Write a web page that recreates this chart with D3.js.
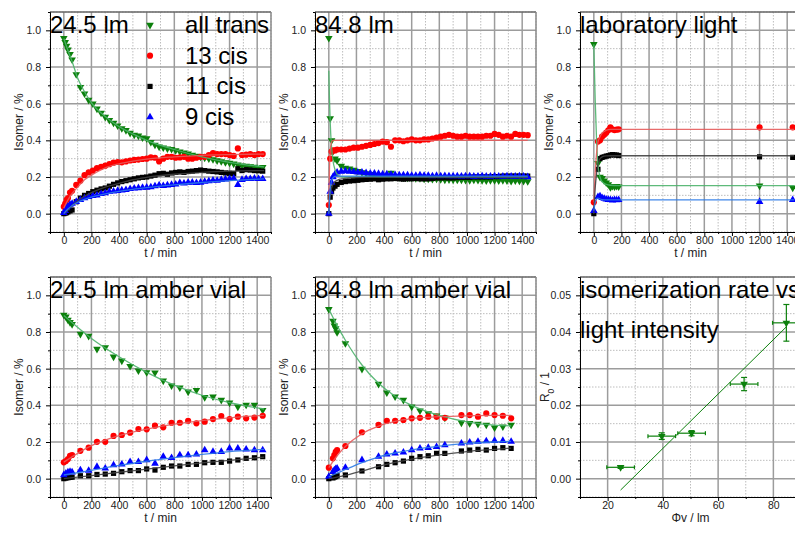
<!DOCTYPE html>
<html>
<head>
<meta charset="utf-8">
<script src="https://cdn.jsdelivr.net/npm/d3@7"></script>
<style>
  body { margin: 0; background: #fff; }
  svg { display: block; font-family: "Liberation Sans", Arial, Helvetica, sans-serif; }
</style>
</head>
<body>
<svg id="chart" width="795" height="536"></svg>
<script>
// ---- data (isomer fraction vs time, min) ----

// dense runs, 24.5 lm and 84.8 lm
const tDense = [0,10,20,30,45,60,90,120,150,180,210,240,270,300,330,360,390,420,450,480,510,540,570,600,630,660,690,720,750,780,810,840,870,900,930,960,990,1020,1050,1080,1110,1140,1170,1200,1230,1260,1290,1320,1350,1380,1410,1440];

const p1Trans = [.957,.935,.915,.895,.87,.84,.76,.69,.655,.62,.60,.572,.55,.527,.51,.495,.48,.465,.455,.44,.43,.425,.415,.41,.39,.375,.365,.36,.355,.352,.345,.338,.332,.327,.32,.315,.31,.305,.30,.296,.29,.285,.28,.277,.272,.267,.262,.26,.257,.255,.25,.253];
const p1Cis13 = [.038,.055,.075,.085,.115,.125,.157,.18,.21,.225,.235,.248,.256,.262,.27,.278,.282,.28,.285,.29,.293,.295,.298,.30,.307,.305,.285,.30,.31,.31,.305,.307,.31,.30,.30,.305,.31,.31,.32,.33,.325,.325,.325,.32,.315,.356,.32,.322,.325,.32,.325,.325];
const p1Cis11 = [0,.003,.005,.01,.015,.02,.065,.085,.10,.11,.12,.128,.135,.14,.15,.16,.168,.175,.18,.185,.19,.195,.198,.20,.205,.21,.218,.22,.215,.222,.225,.228,.225,.23,.232,.235,.238,.235,.232,.23,.228,.225,.222,.22,.218,.245,.235,.24,.238,.235,.234,.232];
const p1Cis9 = [.005,.015,.03,.04,.05,.055,.065,.075,.085,.092,.098,.10,.108,.112,.12,.122,.125,.128,.13,.135,.138,.14,.142,.143,.145,.15,.155,.152,.155,.158,.16,.168,.165,.17,.17,.168,.17,.175,.178,.182,.18,.185,.188,.19,.193,.158,.185,.19,.19,.192,.19,.19];
const p1FitT = [0,30,60,100,150,200,300,400,500,600,800,1000,1200,1450];
const p1FitTrans = [.955,.89,.83,.74,.665,.605,.53,.475,.435,.40,.35,.31,.28,.255];
const p1FitCis13 = [.03,.075,.11,.145,.185,.21,.25,.272,.287,.298,.31,.318,.322,.325];
const p1FitCis11 = [0,.02,.045,.07,.095,.115,.145,.165,.185,.198,.215,.225,.232,.235];
const p1FitCis9 = [0,.025,.045,.062,.078,.09,.108,.122,.133,.142,.157,.17,.18,.19];

const p2Trans = [.957,.52,.40,.34,.30,.29,.26,.25,.245,.238,.232,.225,.22,.215,.21,.208,.205,.203,.222,.20,.198,.196,.195,.195,.193,.192,.19,.19,.188,.19,.187,.185,.186,.185,.184,.185,.183,.182,.184,.183,.182,.18,.182,.181,.18,.182,.18,.178,.18,.179,.178,.176];
const p2Cis13 = [.047,.30,.338,.345,.345,.35,.35,.35,.355,.36,.36,.365,.37,.375,.38,.385,.393,.39,.365,.40,.40,.395,.40,.405,.40,.40,.405,.405,.41,.415,.42,.425,.43,.425,.42,.42,.425,.42,.42,.42,.42,.425,.425,.435,.43,.42,.425,.42,.435,.43,.43,.428];
const p2Cis11 = [0,.09,.12,.14,.15,.16,.17,.175,.178,.18,.182,.185,.187,.188,.19,.185,.188,.19,.19,.192,.19,.188,.19,.19,.192,.19,.19,.19,.192,.195,.195,.196,.195,.195,.197,.198,.198,.198,.20,.20,.20,.20,.20,.202,.202,.205,.205,.205,.205,.205,.205,.205];
const p2Cis9 = [0,.12,.17,.20,.215,.225,.23,.232,.23,.228,.225,.225,.222,.22,.22,.218,.215,.215,.213,.212,.21,.21,.21,.208,.208,.21,.208,.208,.205,.207,.205,.206,.205,.205,.205,.204,.205,.205,.203,.204,.205,.203,.203,.205,.204,.203,.205,.204,.203,.205,.204,.20];
const p2FitT = [0,5,10,20,30,45,60,80,100,150,200,300,500,800,1100,1440];
const p2FitTrans = [.78,.62,.50,.36,.29,.24,.215,.205,.20,.20,.20,.20,.20,.20,.20,.20];
const p2FitCis13 = [.05,.25,.34,.39,.40,.40,.40,.40,.40,.40,.40,.40,.40,.40,.40,.40];
const p2FitCis11 = [0,.06,.10,.14,.16,.175,.182,.188,.19,.195,.197,.198,.20,.20,.20,.20];
const p2FitCis9 = [0,.08,.13,.18,.195,.203,.205,.205,.205,.205,.205,.205,.205,.205,.205,.205];

// laboratory light
const t3 = [0,30,45,60,75,90,105,120,135,150,165,180,1200,1440];
const p3Trans = [.924,.275,.20,.193,.18,.169,.16,.143,.15,.147,.15,.147,.152,.141];
const p3Cis13 = [.062,.393,.40,.42,.43,.442,.455,.471,.46,.456,.458,.46,.471,.471];
const p3Cis11 = [0,.242,.30,.307,.31,.314,.316,.32,.322,.32,.32,.317,.31,.307];
const p3Cis9 = [.016,.092,.095,.086,.082,.078,.076,.075,.073,.075,.074,.075,.065,.075];
const p3FitT = [0,10,20,30,45,60,90,120,180,1450];
const p3FitTrans = [.924,.62,.40,.27,.20,.175,.16,.155,.153,.153];
const p3FitCis13 = [.062,.22,.33,.39,.42,.44,.455,.46,.46,.46];
const p3FitCis11 = [0,.14,.22,.27,.30,.31,.315,.316,.316,.316];
const p3FitCis9 = [.016,.06,.08,.085,.08,.077,.075,.075,.075,.075];

// 24.5 lm amber vial
const t4 = [0,15,30,45,60,120,180,240,300,360,420,480,540,600,660,720,780,840,900,960,1020,1080,1140,1200,1260,1320,1380,1440];
const p4Trans = [.893,.884,.866,.853,.842,.789,.778,.707,.716,.665,.643,.614,.589,.58,.578,.534,.507,.496,.474,.483,.444,.447,.429,.414,.392,.402,.402,.374];
const p4Cis13 = [.089,.096,.107,.125,.129,.152,.169,.201,.201,.233,.238,.251,.271,.269,.289,.28,.305,.305,.316,.302,.311,.325,.342,.325,.338,.329,.333,.343];
const p4Cis11 = [0,.003,.005,.007,.008,.016,.016,.023,.025,.029,.038,.044,.044,.053,.047,.062,.069,.069,.078,.078,.087,.089,.089,.096,.102,.111,.114,.12];
const p4Cis9 = [.02,.029,.035,.038,.035,.047,.044,.065,.056,.074,.078,.092,.092,.102,.083,.12,.114,.129,.129,.133,.156,.147,.147,.165,.165,.16,.156,.156];
const p4FitT = [0,200,400,600,800,1000,1200,1450];
const p4FitTrans = [.89,.765,.665,.58,.51,.455,.415,.38];
const p4FitCis13 = [.09,.18,.235,.27,.297,.317,.332,.345];
const p4FitCis11 = [0,.017,.035,.052,.07,.086,.1,.118];
const p4FitCis9 = [.02,.045,.072,.095,.115,.133,.148,.16];

// 84.8 lm amber vial
const t5 = [0,30,40,50,60,120,240,360,420,480,540,600,660,720,780,840,960,1020,1080,1140,1200,1260,1320];
const p5Trans = [.924,.86,.834,.82,.798,.738,.598,.516,.469,.447,.429,.392,.371,.356,.343,.332,.305,.302,.298,.293,.278,.284,.293];
const p5Cis13 = [.06,.111,.129,.147,.156,.178,.253,.293,.316,.316,.32,.329,.332,.338,.338,.332,.347,.347,.338,.356,.347,.343,.329];
const p5Cis11 = [0,.004,.009,.011,.016,.02,.042,.065,.078,.087,.096,.111,.12,.125,.138,.138,.151,.156,.16,.156,.165,.169,.165];
const p5Cis9 = [.011,.038,.047,.053,.056,.06,.102,.12,.133,.138,.144,.156,.165,.169,.174,.183,.193,.198,.202,.205,.207,.207,.202];
const p5FitT = [0,60,120,240,360,480,600,800,1000,1200,1320];
const p5FitTrans = [.925,.835,.755,.62,.52,.45,.40,.345,.31,.292,.288];
const p5FitCis13 = [.06,.125,.175,.245,.287,.312,.327,.338,.343,.345,.345];
const p5FitCis11 = [0,.008,.018,.042,.067,.089,.107,.13,.148,.16,.167];
const p5FitCis9 = [.01,.03,.05,.088,.118,.14,.157,.178,.192,.2,.203];

// isomerization rate vs light intensity
const phiV = [24.7, 39.6, 50.4, 69.4, 84.7];
const phiErr = [5, 5, 5, 5, 5];
const rate0 = [0.0031, 0.0116, 0.0124, 0.0258, 0.0425];
const rateErr = [0.0003, 0.0009, 0.0007, 0.0018, 0.005];
const rateFitX = [24.7, 84.7];
const rateFitY = [-0.0031, 0.0414];

// ---- drawing ----
const svg = d3.select("#chart");
const PW = 221, PH = 220;

const series = [
  { label: "all trans", color: "#0c800c", fit: "#4cb36c", shape: "down" },
  { label: "13 cis", color: "#ff0000", fit: "#e65c5c", shape: "circle" },
  { label: "11 cis", color: "#000000", fit: "#404040", shape: "square" },
  { label: "9 cis", color: "#0000ff", fit: "#2d7be6", shape: "up" }
];

function symbolPath(shape) {
  if (shape === "circle") return d3.symbol(d3.symbolCircle, 30)();
  if (shape === "square") return d3.symbol(d3.symbolSquare, 27)();
  return d3.symbol(d3.symbolTriangle, 25)();
}

function drawMarkers(g, pts, s) {
  g.append("g").selectAll("path").data(pts).join("path")
    .attr("d", symbolPath(s.shape))
    .attr("transform", d => `translate(${d[0]},${d[1]})` + (s.shape === "down" ? " rotate(180)" : ""))
    .attr("fill", s.color);
}

function makePanel(p) {
  const g = svg.append("g").attr("transform", `translate(${p.left},${p.top})`);
  const x = d3.scaleLinear().domain(p.xDomain).range([0, PW]);
  const y = d3.scaleLinear().domain(p.yDomain).range([PH, 0]);

  // grid
  const grid = g.append("g");
  grid.selectAll(".mx").data(p.xMinor).join("line")
    .attr("x1", d => x(d)).attr("x2", d => x(d)).attr("y1", 0).attr("y2", PH)
    .attr("stroke", "#bdbdbd").attr("stroke-dasharray", "1.5,1.5");
  grid.selectAll(".my").data(p.yMinor).join("line")
    .attr("y1", d => y(d)).attr("y2", d => y(d)).attr("x1", 0).attr("x2", PW)
    .attr("stroke", "#bdbdbd").attr("stroke-dasharray", "1.5,1.5");
  grid.selectAll(".gx").data(p.xMajor).join("line")
    .attr("x1", d => x(d)).attr("x2", d => x(d)).attr("y1", 0).attr("y2", PH)
    .attr("stroke", "#9c9c9c").attr("stroke-width", 1.5);
  grid.selectAll(".gy").data(p.yMajor).join("line")
    .attr("y1", d => y(d)).attr("y2", d => y(d)).attr("x1", 0).attr("x2", PW)
    .attr("stroke", "#9c9c9c").attr("stroke-width", 1.5);

  // frame top / right
  g.append("line").attr("x1", 0).attr("x2", PW).attr("y1", 0).attr("y2", 0)
    .attr("stroke", "#666").attr("stroke-width", 1.3);
  g.append("line").attr("x1", PW).attr("x2", PW).attr("y1", 0).attr("y2", PH)
    .attr("stroke", "#888").attr("stroke-width", 1.5);

  // axes
  const ax = (axis, transform) => {
    const a = g.append("g").attr("transform", transform || null).call(axis);
    a.select(".domain").attr("stroke", "#000");
    a.selectAll(".tick line").attr("stroke", "#000");
    a.selectAll("text").attr("font-size", 10.5).attr("fill", "#222")
      .style("font-family", '"Liberation Sans", Arial, sans-serif');
    return a;
  };
  ax(d3.axisLeft(y).tickValues(p.yMinor).tickSize(2).tickSizeOuter(0).tickFormat(""));
  ax(d3.axisLeft(y).tickValues(p.yMajor).tickSize(4).tickSizeOuter(0).tickPadding(5)
    .tickFormat(d3.format(p.yFmt)));
  ax(d3.axisBottom(x).tickValues(p.xMinor).tickSize(2).tickSizeOuter(0).tickFormat(""), `translate(0,${PH})`);
  ax(d3.axisBottom(x).tickValues(p.xMajor).tickSize(4).tickSizeOuter(0).tickPadding(1)
    .tickFormat(d3.format(p.xFmt)), `translate(0,${PH})`);

  // axis titles
  g.append("text").attr("x", PW / 2).attr("y", PH + 25).attr("text-anchor", "middle")
    .attr("font-size", 12).attr("fill", "#222").text(p.xTitle);
  const yt = g.append("text")
    .attr("transform", `translate(${p.yTitleX},${PH / 2}) rotate(-90)`)
    .attr("text-anchor", "middle").attr("font-size", 12).attr("fill", "#222");
  if (p.yTitleSub) {
    yt.append("tspan").text("R");
    yt.append("tspan").attr("baseline-shift", "sub").attr("font-size", 8.5).text("0");
    yt.append("tspan").text(" / 1");
  } else {
    yt.text(p.yTitle);
  }
  return { g, x, y };
}

function timePanel(p) {
  const { g, x, y } = makePanel(Object.assign({
    xDomain: [-100, 1500], yDomain: [-0.1, 1.1],
    xMajor: [0, 200, 400, 600, 800, 1000, 1200, 1400],
    xMinor: [-100, 100, 300, 500, 700, 900, 1100, 1300, 1500],
    yMajor: [0, 0.2, 0.4, 0.6, 0.8, 1.0],
    yMinor: [-0.1, 0.1, 0.3, 0.5, 0.7, 0.9, 1.1],
    xFmt: "d", yFmt: ".1f", xTitle: "t / min", yTitle: "Isomer / %", yTitleX: -27
  }, p));

  const line = d3.line().curve(d3.curveMonotoneX).x(d => x(d[0])).y(d => y(d[1]));
  series.forEach((s, i) => {
    drawMarkers(g, p.t.map((t, k) => [x(t), y(p.vals[i][k])]), s);
  });
  series.forEach((s, i) => {
    g.append("path").datum(p.fitT.map((t, k) => [t, p.fits[i][k]]))
      .attr("d", line).attr("fill", "none")
      .attr("stroke", s.fit).attr("stroke-width", 1.3).attr("stroke-opacity", 0.9);
  });

  g.append("text").attr("x", 0).attr("y", 21).attr("font-size", 24).attr("fill", "#000").text(p.title);
  return g;
}

const g1 = timePanel({ left: 50, top: 12, title: "24.5 lm", t: tDense,
  vals: [p1Trans, p1Cis13, p1Cis11, p1Cis9], fitT: p1FitT,
  fits: [p1FitTrans, p1FitCis13, p1FitCis11, p1FitCis9] });

timePanel({ left: 315, top: 12, title: "84.8 lm", t: tDense,
  vals: [p2Trans, p2Cis13, p2Cis11, p2Cis9], fitT: p2FitT,
  fits: [p2FitTrans, p2FitCis13, p2FitCis11, p2FitCis9] });

timePanel({ left: 580, top: 12, title: "laboratory light", t: t3,
  vals: [p3Trans, p3Cis13, p3Cis11, p3Cis9], fitT: p3FitT,
  fits: [p3FitTrans, p3FitCis13, p3FitCis11, p3FitCis9] });

timePanel({ left: 50, top: 277, title: "24.5 lm amber vial", t: t4,
  vals: [p4Trans, p4Cis13, p4Cis11, p4Cis9], fitT: p4FitT,
  fits: [p4FitTrans, p4FitCis13, p4FitCis11, p4FitCis9] });

timePanel({ left: 315, top: 277, title: "84.8 lm amber vial", t: t5,
  vals: [p5Trans, p5Cis13, p5Cis11, p5Cis9], fitT: p5FitT,
  fits: [p5FitTrans, p5FitCis13, p5FitCis11, p5FitCis9] });

// legend in the first panel
series.forEach((s, i) => {
  const yy = 21 + i * 30.7;
  drawMarkers(g1, [[100, yy - 8]], s);
  g1.append("text").attr("x", 135).attr("y", yy).attr("font-size", 24).attr("fill", "#000").text(s.label);
});

// rate panel
(function () {
  const { g, x, y } = makePanel({
    left: 580, top: 277,
    xDomain: [10, 90], yDomain: [-0.005, 0.055],
    xMajor: [20, 40, 60, 80], xMinor: [10, 30, 50, 70, 90],
    yMajor: [0, 0.01, 0.02, 0.03, 0.04, 0.05],
    yMinor: [-0.005, 0.005, 0.015, 0.025, 0.035, 0.045, 0.055],
    xFmt: "d", yFmt: ".2f", xTitle: "Φv / lm", yTitleSub: true, yTitleX: -31
  });
  const green = "#0c800c";
  g.append("line")
    .attr("x1", x(rateFitX[0])).attr("y1", y(rateFitY[0]))
    .attr("x2", x(rateFitX[1])).attr("y2", y(rateFitY[1]))
    .attr("stroke", green).attr("stroke-width", 1);
  const eb = g.append("g").attr("stroke", green).attr("stroke-width", 1.2);
  phiV.forEach((v, i) => {
    const cx = x(v), cy = y(rate0[i]);
    const x0 = x(v - phiErr[i]), x1 = x(v + phiErr[i]);
    const y0 = y(rate0[i] - rateErr[i]), y1 = y(rate0[i] + rateErr[i]);
    eb.append("line").attr("x1", x0).attr("x2", x1).attr("y1", cy).attr("y2", cy);
    eb.append("line").attr("x1", x0).attr("x2", x0).attr("y1", cy - 2).attr("y2", cy + 2);
    eb.append("line").attr("x1", x1).attr("x2", x1).attr("y1", cy - 2).attr("y2", cy + 2);
    eb.append("line").attr("x1", cx).attr("x2", cx).attr("y1", y0).attr("y2", y1);
    eb.append("line").attr("x1", cx - 3).attr("x2", cx + 3).attr("y1", y0).attr("y2", y0);
    eb.append("line").attr("x1", cx - 3).attr("x2", cx + 3).attr("y1", y1).attr("y2", y1);
  });
  drawMarkers(g, phiV.map((v, i) => [x(v), y(rate0[i])]), { shape: "down", color: green });
  g.append("text").attr("x", 0).attr("y", 21).attr("font-size", 24).attr("fill", "#000").text("isomerization rate vs");
  g.append("text").attr("x", 0).attr("y", 61).attr("font-size", 24).attr("fill", "#000").text("light intensity");
})();
</script>
</body>
</html>
